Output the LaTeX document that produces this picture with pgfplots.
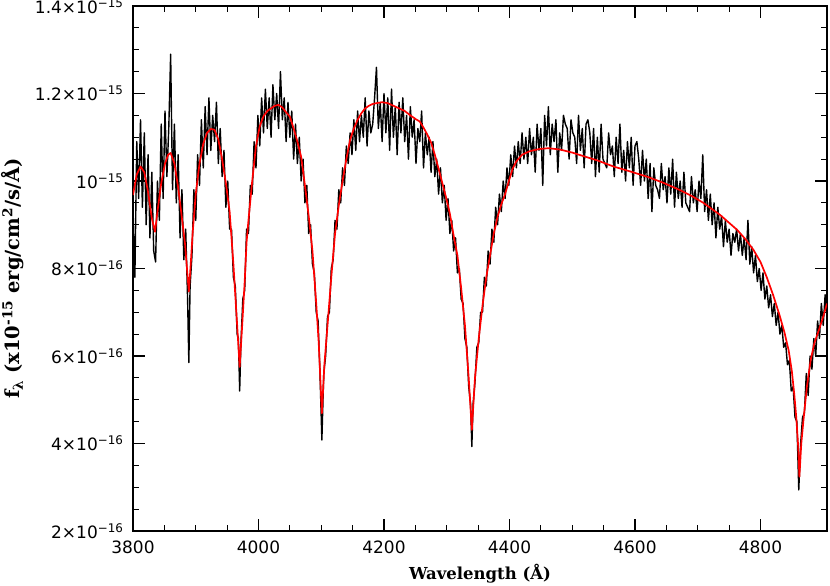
\documentclass[border=0pt]{standalone}
\usepackage{fontspec}
\setmainfont{DejaVu Sans}
\newfontfamily\labfont{DejaVu Serif}
\usepackage{pgfplots}
\pgfplotsset{compat=1.18}

% flux in units of 1e-16 erg/cm2/s/A
\pgfplotstableread{
lam flux
3800 9.2
3803 7.8
3806 10.9
3809 9.6
3812 11.4
3815 9.4
3818 11.1
3821 9.0
3824 10.6
3827 8.7
3830 10.2
3833 8.4
3836 8.15
3839 10.0
3842 9.1
3845 11.3
3848 9.6
3851 11.6
3854 10.1
3857 11.2
3860 12.9
3863 9.8
3866 11.3
3869 9.5
3872 10.6
3875 8.7
3878 9.8
3881 8.2
3884 8.9
3887 7.3
3889 5.85
3891 7.6
3894 8.3
3897 9.8
3900 9.1
3903 10.6
3906 9.9
3909 11.4
3912 10.3
3915 11.7
3918 10.6
3921 11.9
3924 10.7
3927 11.5
3930 10.9
3933 11.8
3936 10.4
3939 11.2
3942 10.1
3945 10.7
3948 9.4
3951 10.0
3954 8.9
3957 8.9
3960 7.8
3963 7.6
3966 6.5
3968 6.4
3970 5.2
3972 6.3
3975 7.3
3978 7.5
3981 8.9
3984 8.8
3987 9.9
3990 9.7
3993 10.9
3996 10.3
3999 11.5
4002 10.8
4005 11.9
4008 11.1
4011 12.1
4014 11.2
4017 11.9
4020 11.0
4023 12.2
4026 11.4
4029 12.0
4032 11.2
4035 12.5
4038 11.4
4041 11.9
4044 10.9
4047 11.8
4050 11.0
4053 11.6
4056 10.5
4059 11.3
4062 10.4
4065 11.0
4068 10.0
4071 10.5
4074 9.5
4077 9.9
4080 8.8
4083 9.0
4086 8.1
4089 7.9
4092 7.0
4095 6.8
4098 5.6
4101 4.08
4104 5.6
4107 6.0
4110 6.9
4113 7.0
4116 8.0
4119 8.2
4122 9.1
4125 8.9
4128 9.8
4131 9.5
4134 10.3
4137 9.9
4140 10.8
4143 10.4
4146 11.1
4149 10.6
4152 11.4
4155 10.7
4158 11.6
4161 10.9
4164 11.5
4167 11.0
4170 11.9
4173 10.8
4176 11.6
4179 11.1
4182 11.3
4185 11.9
4188 12.6
4191 11.2
4194 11.8
4197 10.9
4200 12.0
4203 11.1
4206 11.9
4209 10.7
4212 12.1
4215 11.0
4218 11.7
4221 10.6
4224 11.8
4227 11.1
4230 11.9
4233 10.9
4236 11.5
4239 10.5
4242 11.7
4245 11.0
4248 11.4
4251 10.4
4254 11.2
4257 10.9
4260 11.6
4263 10.3
4266 11.1
4269 10.6
4272 11.0
4275 10.2
4278 10.9
4281 10.1
4284 10.5
4287 9.7
4290 10.3
4293 9.5
4296 9.9
4299 9.1
4302 9.6
4305 8.8
4308 9.1
4311 8.4
4314 8.7
4317 7.9
4320 8.0
4323 7.3
4326 7.2
4329 6.4
4332 6.2
4335 5.3
4338 4.9
4340 3.93
4342 4.9
4345 5.4
4348 6.2
4351 6.3
4354 7.0
4357 7.0
4360 7.8
4363 7.6
4366 8.4
4369 8.1
4372 8.9
4375 8.6
4378 9.4
4381 9.0
4384 9.7
4387 9.3
4390 10.0
4393 9.6
4396 10.3
4399 9.9
4402 10.6
4405 10.1
4408 10.8
4411 10.3
4414 10.9
4417 10.4
4420 11.1
4423 10.5
4426 11.0
4429 10.4
4432 11.2
4435 10.6
4438 11.0
4441 10.2
4444 11.3
4447 10.7
4450 11.2
4453 9.9
4456 11.5
4459 10.8
4462 11.7
4465 10.6
4468 11.3
4471 10.9
4474 11.4
4477 10.2
4480 11.1
4483 10.7
4486 11.5
4489 11.3
4492 11.2
4495 10.5
4498 11.4
4501 11.1
4504 11.0
4507 10.4
4510 11.5
4513 10.7
4516 11.2
4519 10.3
4522 11.3
4525 11.4
4528 11.1
4531 10.4
4534 11.2
4537 10.1
4540 11.0
4543 10.2
4546 11.3
4549 10.5
4552 10.4
4555 10.3
4558 11.1
4561 10.6
4564 10.8
4567 10.1
4570 11.0
4573 10.4
4576 11.3
4579 10.2
4582 10.7
4585 10.0
4588 10.9
4591 10.3
4594 11.0
4597 9.9
4600 10.8
4603 10.9
4606 10.5
4609 9.9
4612 10.7
4615 10.0
4618 10.5
4621 9.6
4624 10.4
4627 9.3
4630 10.3
4633 9.9
4636 9.8
4639 9.6
4642 10.4
4645 9.8
4648 10.1
4651 9.5
4654 10.3
4657 9.7
4660 10.5
4663 9.4
4666 10.2
4669 9.6
4672 10.0
4675 9.4
4678 10.2
4681 9.5
4684 9.4
4687 9.3
4690 10.1
4693 9.5
4696 9.8
4699 9.3
4702 10.0
4705 9.6
4708 10.6
4711 9.3
4714 9.8
4717 9.1
4720 9.7
4723 9.0
4726 9.5
4729 8.7
4732 9.4
4735 8.9
4738 9.2
4741 8.5
4744 9.1
4747 8.6
4750 8.9
4753 8.3
4756 8.8
4759 8.6
4762 8.9
4765 8.4
4768 8.8
4771 8.3
4774 8.7
4777 8.2
4780 9.1
4783 8.1
4786 8.5
4789 7.9
4792 8.3
4795 7.7
4798 8.0
4801 7.5
4804 7.9
4807 7.3
4810 7.6
4813 7.1
4816 7.4
4819 6.9
4822 7.2
4825 6.7
4828 7.0
4831 6.5
4834 6.7
4837 6.2
4840 6.3
4843 5.8
4846 5.9
4849 5.2
4852 5.3
4855 4.6
4858 4.5
4861 2.94
4864 4.0
4867 4.6
4870 4.7
4873 5.6
4876 5.1
4879 6.0
4882 5.7
4885 6.4
4888 6.0
4891 6.8
4894 6.4
4897 7.2
4900 6.7
4903 7.4
4906 6.9
}\spectrum

\begin{document}
\begin{tikzpicture}
\begin{axis}[
    scale only axis,
    width=694pt,
    height=525pt,
    xmin=3800, xmax=4906,
    ymin=2, ymax=14,
    axis line style={line width=1.3pt},
    every tick/.style={black, line width=1.1pt},
    tick align=inside,
    major tick length=12pt,
    minor tick length=6pt,
    xtick={3800,4000,4200,4400,4600,4800},
    xticklabels={3800,4000,4200,4400,4600,4800},
    minor x tick num=3,
    ytick={2,4,6,8,10,12,14},
    yticklabels={2×10\textsuperscript{−16},4×10\textsuperscript{−16},6×10\textsuperscript{−16},8×10\textsuperscript{−16},10\textsuperscript{−15},1.2×10\textsuperscript{−15},1.4×10\textsuperscript{−15}},
    minor y tick num=3,
    tick label style={font=\fontsize{17}{20}\selectfont},
    xticklabel style={yshift=-6pt},
    yticklabel style={xshift=-6pt},
    xlabel={Wavelength (Å)},
    ylabel={f\textsubscript{λ} (x10\textsuperscript{-15} erg/cm\textsuperscript{2}/s/Å)},
    xlabel style={font=\labfont\bfseries\fontsize{16.5}{19}\selectfont,
        at={(axis description cs:0.5,-0.0933)}, anchor=base},
    ylabel style={font=\labfont\bfseries\fontsize{19.5}{22}\selectfont,
        at={(axis description cs:-0.163,0.481)}, anchor=base},
]
\addplot[black, line width=1.4pt, line join=round] table[x=lam, y=flux] {\spectrum};
\addplot[red, line width=1.7pt, line join=round] coordinates {
(3800,9.68)(3806,10.15)(3812,10.33)(3818,10.2)(3824,9.75)(3830,9.15)(3835,8.84)(3839,9.3)(3845,9.95)(3851,10.4)(3856,10.6)(3860,10.64)(3866,10.4)(3872,9.85)(3878,9.15)(3883,8.55)(3886,8.0)(3889,7.47)(3892,8.1)(3895,8.8)(3900,9.7)(3906,10.4)(3912,10.85)(3918,11.1)(3924,11.19)(3930,11.17)(3936,10.95)(3942,10.5)(3948,9.95)(3954,9.3)(3957,8.7)(3960,8.1)(3963,7.4)(3966,6.7)(3970,5.75)(3974,6.7)(3978,7.7)(3981,8.6)(3984,9.1)(3990,10.0)(3996,10.8)(4002,11.25)(4008,11.48)(4014,11.6)(4020,11.66)(4026,11.72)(4032,11.74)(4038,11.68)(4044,11.57)(4050,11.47)(4056,11.2)(4062,10.9)(4068,10.55)(4074,9.9)(4080,9.2)(4086,8.4)(4092,7.2)(4096,6.3)(4101,4.69)(4105,5.8)(4110,6.7)(4116,7.8)(4122,8.8)(4128,9.45)(4134,10.0)(4140,10.5)(4146,10.94)(4152,11.2)(4158,11.4)(4164,11.55)(4170,11.66)(4176,11.72)(4182,11.76)(4188,11.78)(4197,11.8)(4206,11.78)(4215,11.72)(4224,11.66)(4233,11.6)(4242,11.5)(4251,11.41)(4257,11.36)(4263,11.22)(4269,11.06)(4275,10.88)(4281,10.6)(4287,10.28)(4293,9.95)(4299,9.62)(4305,9.25)(4311,8.75)(4317,8.3)(4323,7.55)(4329,6.7)(4335,5.5)(4340,4.31)(4345,5.5)(4351,6.4)(4357,7.15)(4363,7.8)(4369,8.3)(4375,8.8)(4381,9.18)(4387,9.47)(4393,9.7)(4399,10.0)(4405,10.28)(4411,10.45)(4420,10.6)(4432,10.68)(4447,10.73)(4462,10.75)(4480,10.72)(4500,10.65)(4513,10.59)(4540,10.47)(4566,10.33)(4592,10.22)(4619,10.1)(4645,9.96)(4672,9.79)(4690,9.66)(4709,9.5)(4736,9.22)(4763,8.88)(4776,8.67)(4789,8.42)(4800,8.15)(4810,7.8)(4820,7.4)(4830,6.95)(4838,6.55)(4845,6.12)(4850,5.65)(4854,5.1)(4857,4.6)(4860,3.95)(4862,3.24)(4865,4.0)(4869,4.61)(4874,5.3)(4880,5.91)(4886,6.3)(4893,6.59)(4900,6.9)(4906,7.2)
};
\end{axis}
\pgfresetboundingbox
\path (current axis.south west) ++(-133pt,-55pt) rectangle ++(830pt,586pt);
\end{tikzpicture}
\end{document}
